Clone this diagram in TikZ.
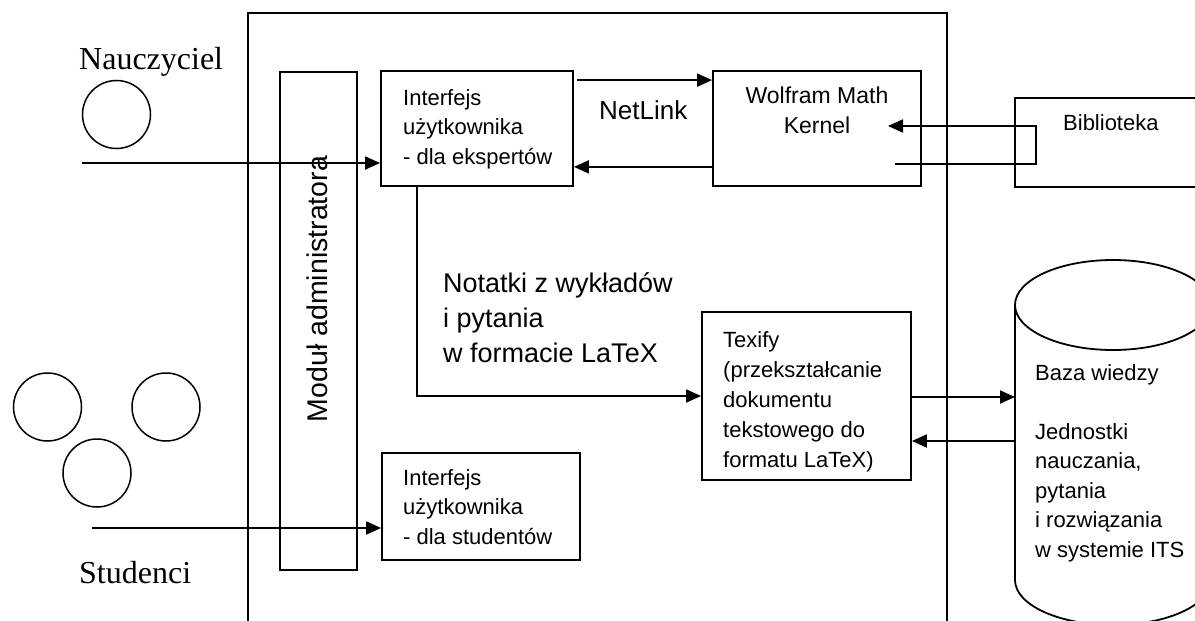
\documentclass[tikz,border=0pt]{standalone}
\usepackage{fontspec}
\usetikzlibrary{arrows.meta,calc}
\newfontfamily\lsans{Liberation Sans}
\newfontfamily\lserif{Liberation Serif}
\begin{document}
\begin{tikzpicture}[x=1pt,y=-1pt,
  box/.style={draw,line width=1.8pt,inner sep=0pt},
  ln/.style={line width=1.8pt},
  arr/.style={ln,-{Triangle[length=15pt,width=13pt]}},
  small/.style={font=\lsans\fontsize{22}{29.5}\selectfont,inner sep=0pt,align=left},
  big/.style={font=\lsans\fontsize{27}{35}\selectfont,inner sep=0pt,align=left},
  person/.style={draw,line width=1.5pt,circle,minimum size=68pt,inner sep=0pt},
  who/.style={font=\lserif\fontsize{32}{38}\selectfont,inner sep=0pt}]
\useasboundingbox (0,0) rectangle (1195,621);
% outer frame
\draw[ln] (248,630) -- (248,13) -- (947,13) -- (947,630);
% boxes
\node[box,minimum width=77pt,minimum height=498pt] (adm) at (318.5,321) {};
\node[font=\lsans\fontsize{28.5}{35}\selectfont,inner sep=0pt,rotate=90] (admt) at (317,289) {Moduł administratora};
\node[box,minimum width=192pt,minimum height=115pt] (exp) at (477,128.5) {};
\node[small,anchor=north west] (expt) at (403,89) {Interfejs\\użytkownika\\- dla ekspertów};
\node[box,minimum width=198pt,minimum height=107pt] (stu) at (481,506.5) {};
\node[small,anchor=north west] (stut) at (403,469) {Interfejs\\użytkownika\\- dla studentów};
\node[box,minimum width=208pt,minimum height=115pt] (wmk) at (817,128.5) {};
\node[small,font=\lsans\fontsize{23}{29.5}\selectfont,align=center,anchor=north] (wmkt) at (817,87) {Wolfram Math\\Kernel};
\node[box,minimum width=209pt,minimum height=168pt] (tex) at (806.5,396) {};
\node[small,font=\lsans\fontsize{22}{30}\selectfont,anchor=north west] (text) at (723,331) {Texify\\(przekształcanie\\dokumentu\\tekstowego do\\formatu LaTeX)};
\node[box,minimum width=200pt,minimum height=89pt] (bib) at (1115,142.5) {};
\node[small,anchor=north west] (bibt) at (1063,114) {Biblioteka};
\node[big,font=\lsans\fontsize{26}{32}\selectfont,anchor=north west] (net) at (599,100) {NetLink};
\node[big,anchor=north west] (notes) at (443,272) {Notatki z wykładów\\i pytania\\w formacie LaTeX};
% database cylinder
\draw[ln] (1113,305) ellipse [x radius=98pt, y radius=45pt];
\draw[ln] (1015,305) -- (1015,580) arc[start angle=180,end angle=360,x radius=98pt,y radius=45pt];
\node[small,anchor=north west] (dbt) at (1035,364) {Baza wiedzy\\[29.5pt]Jednostki\\nauczania,\\pytania\\i rozwiązania\\w systemie ITS};
% people
\node[person] (t1) at (116.5,114.5) {};
\node[who,anchor=base west] (tlab) at (79,69) {Nauczyciel};
\node[person] (s1) at (47.5,407) {};
\node[person] (s2) at (166,407) {};
\node[person] (s3) at (97,473) {};
\node[who,anchor=base west] (slab) at (79,583) {Studenci};
% connectors
\coordinate (tin) at (82,163);
\draw[arr] (tin) -- (tin -| exp.west);
\coordinate (sin) at (92,528);
\draw[arr] (sin) -- (sin -| stu.west);
\draw[arr] ([shift={(3,10)}]exp.north east) -- ([shift={(0,10)}]wmk.north west);
\draw[arr] ([shift={(0,-20)}]wmk.south west) -- ([shift={(0,-20)}]exp.south east);
\coordinate (kin) at (888,126);
\coordinate (kout) at (895,164);
\coordinate (bturn) at (1036,126);
\draw[arr] (kout) -| (bturn) -- (kin);
\draw[arr] ([xshift=37pt]exp.south west) |- (tex.west);
\coordinate (dbin) at (1015,397);
\coordinate (dbout) at (1015,441);
\draw[arr] (tex.east |- dbin) -- (dbin);
\draw[arr] (dbout) -- (tex.east |- dbout);
\end{tikzpicture}
\end{document}
